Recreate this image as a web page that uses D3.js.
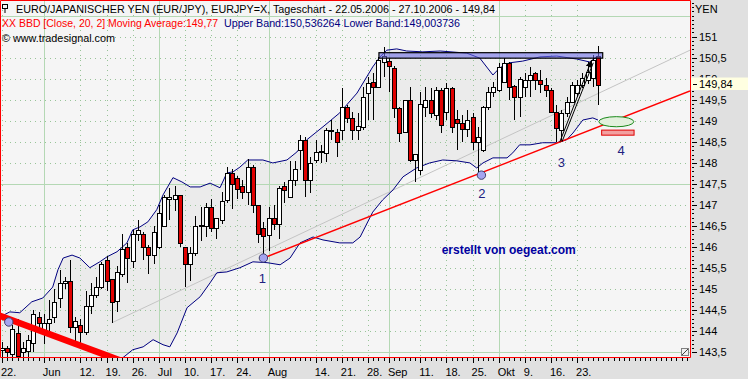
<!DOCTYPE html>
<html>
<head>
<meta charset="utf-8">
<script src="https://cdn.jsdelivr.net/npm/d3@7"></script>
<style>
  body { margin: 0; background: #e0e0e0; }
  svg { display: block; font-family: "Liberation Sans", Arial, sans-serif; }
</style>
</head>
<body>
<div id="chart"></div>
<script>

// daily candles, 22.05.2006 (index 0) .. 27.10.2006 (index 114)
var openV = [143.55,143.60,143.45,143.95,143.50,143.55,143.70,144.35,144.00,144.20,
  144.35,144.80,145.15,145.20,144.10,144.15,143.98,144.60,144.85,145.05,
  145.70,145.25,144.70,145.35,146.00,145.65,146.30,146.30,146.00,145.80,
  146.00,146.50,147.15,147.15,147.25,146.00,145.60,145.85,146.50,146.50,
  146.95,146.45,146.65,147.10,147.75,147.65,147.45,147.30,147.90,147.00,
  146.45,146.30,146.70,146.55,147.45,147.20,147.60,148.31,148.55,147.60,
  148.07,148.26,148.24,148.76,148.74,148.78,149.33,149.07,148.78,148.86,
  149.66,149.92,149.81,150.40,150.42,150.26,149.31,148.74,149.50,148.07,
  147.83,149.33,149.50,149.14,149.73,149.21,149.78,149.05,148.95,148.81,
  149.09,148.50,148.31,149.33,149.69,149.73,149.92,150.38,149.83,149.57,
  149.81,149.97,150.14,149.97,149.85,149.73,149.21,148.78,149.19,149.45,
  149.66,149.85,149.97,150.02,150.54];
var highV = [143.75,143.65,144.15,144.30,143.75,143.90,144.50,144.45,144.40,144.75,
  145.00,145.45,145.30,145.70,144.35,144.30,144.95,145.15,145.30,145.65,
  145.80,145.25,145.55,146.30,146.10,146.40,146.65,146.35,146.05,146.50,
  147.00,147.25,147.40,147.45,147.25,146.00,146.00,146.75,146.95,147.05,
  147.15,146.70,147.30,147.90,147.85,147.70,147.60,148.10,147.95,147.00,
  146.60,146.95,147.00,147.45,147.55,148.05,148.05,148.66,148.62,148.14,
  148.55,148.43,148.83,149.02,148.81,149.78,149.38,149.21,149.19,149.81,
  150.04,150.14,150.52,150.76,150.49,150.30,149.33,149.50,149.81,148.21,
  149.69,149.81,149.78,149.81,149.78,149.90,149.81,149.26,149.14,149.26,
  149.19,148.86,149.35,149.81,149.92,150.38,150.49,150.40,149.85,150.04,
  150.14,150.28,150.16,150.21,150.02,149.78,149.38,149.26,149.57,149.92,
  149.97,150.14,150.40,150.57,150.78];
var lowV = [143.40,143.30,143.30,143.20,143.30,143.40,143.50,143.95,143.70,143.95,
  144.20,144.55,145.00,143.95,143.75,143.70,143.90,144.40,144.80,145.00,
  144.95,144.20,144.45,145.30,145.15,145.50,146.15,145.70,145.35,145.60,
  145.95,146.50,146.65,146.85,146.00,145.05,145.20,145.80,146.15,146.25,
  146.35,146.20,146.55,147.05,146.90,147.15,147.15,147.00,146.80,146.10,
  145.74,145.90,146.40,146.20,147.05,147.20,147.45,147.83,147.19,147.29,
  148.00,148.00,148.02,148.55,148.14,148.55,148.95,148.55,148.55,148.78,
  149.02,149.02,149.78,150.04,149.69,149.07,148.50,148.71,148.02,147.55,
  147.72,149.09,149.07,149.02,148.71,149.02,148.71,148.31,148.50,148.62,
  148.31,147.74,148.26,149.26,149.57,149.69,149.90,149.50,149.02,149.09,
  149.57,149.57,149.73,149.66,149.57,149.19,148.50,148.50,149.09,149.43,
  149.57,149.78,149.88,149.81,149.38];
var closeV = [143.60,143.50,144.05,143.40,143.60,143.80,144.40,144.20,144.20,144.30,
  144.70,145.15,145.20,144.10,144.25,143.98,144.60,144.85,145.05,145.60,
  145.20,144.70,145.40,145.95,145.75,146.30,146.40,146.00,145.80,146.35,
  146.80,147.20,147.20,147.25,146.10,145.60,145.85,146.50,146.52,146.95,
  146.45,146.68,147.10,147.75,147.50,147.40,147.30,147.90,147.00,146.30,
  146.25,146.70,146.55,147.40,147.35,147.60,147.85,148.55,147.60,148.00,
  148.26,148.28,148.78,148.78,148.50,149.33,149.07,148.78,148.88,149.57,
  149.90,149.81,150.45,150.54,150.30,149.31,148.71,149.50,148.07,148.21,
  149.40,149.50,149.19,149.73,148.90,149.78,148.86,148.95,148.81,149.02,
  148.50,148.62,149.33,149.69,149.81,150.28,150.38,149.81,149.57,150.00,
  149.97,150.09,149.97,149.88,149.73,149.21,148.83,149.19,149.45,149.85,
  149.85,150.02,150.16,150.45,149.84];

// Bollinger bands (20, 2)
var upperIdx = [-0.4,1.5,3.4,5.7,7.8,9.7,10.7,11.7,13.4,14.9,16.8,18.7,20.1,22,23.9,25,26.4,27.9,29.6,30.8,
  32.7,34.4,36,37.9,39.8,41.7,43,44.2,45.5,47,49.9,51.8,54.5,56.4,58.3,61.4,64.6,67.9,70.9,72.3,
  73.6,75.5,77.4,80.5,83.8,88.9,91.4,93.9,95.2,97.1,99.6,102.9,106.1,109.9,112.4,114];
var upperVal = [144.34,144.46,144.44,144.70,144.79,145.05,145.46,145.74,145.81,145.74,145.51,145.65,145.77,145.89,146.10,146.41,146.48,146.60,146.89,147.24,
  147.65,147.55,147.43,147.43,147.52,147.41,147.76,147.79,147.90,148.07,148.07,148.00,148.07,148.26,148.55,148.86,149.19,149.66,150.28,150.52,
  150.68,150.71,150.66,150.64,150.66,150.61,150.49,150.09,150.26,150.38,150.42,150.52,150.54,150.47,150.40,150.54];
var lowerIdx = [-0.4,9,18.7,21.6,23.1,25,27,28.9,30.8,32.1,33.5,35.4,37.9,39.8,41.1,43,45.5,48,50.7,53.2,
  55.1,57,59.5,61.4,64.6,67.1,68.5,70.9,72.8,74.8,76.7,79.3,81.8,84.3,87,89.5,90.8,92,93.9,96.6,
  97.7,99,101,103.4,106.1,108,109.2,111.1,113,114];
var lowerVal = [142.30,142.60,142.96,143.20,143.37,143.56,143.63,143.80,143.68,143.63,143.96,144.56,144.82,145.15,145.39,145.41,145.51,145.65,145.63,145.58,
  145.74,146.10,146.24,146.17,146.10,146.10,146.24,146.83,147.12,147.36,147.67,147.88,148.00,148.07,148.05,148.00,147.88,148.00,148.12,148.12,
  148.24,148.43,148.43,148.48,148.48,148.55,148.71,149.02,149.07,149.02];

// axis ticks
var xTickIdx = [0, 8, 15, 20, 25, 30, 35, 40, 45, 51, 60, 65, 70, 74, 80, 85, 90, 95, 100, 105, 110];
var xTickLabels = ["22.", "Jun", "12.", "19.", "26.", "Jul", "10.", "17.", "24.", "Aug", "14.", "21.", "28.", "Sep", "11.", "18.", "25.", "Okt", "9.", "16.", "23."];
var monthTickIdx = [8, 30, 51, 74, 95];
var yTickVals = [143.5, 144, 144.5, 145, 145.5, 146, 146.5, 147, 147.5, 148, 148.5, 149, 149.5, 150, 150.5, 151];
var lastPrice = 149.84;

// drawn annotations, in (day index, price)
var grayTrend = [[21.0, 144.20], [131.6, 150.68]];
var redTrend = [[50, 145.74], [131.6, 149.71]];
var thickTrend = [[-0.4, 144.37], [26, 143.15]];
var arrowA = [[106.7, 148.50], [112.7, 150.42]];
var arrowB = [[107.1, 148.50], [113.1, 150.38]];
var markIdx = [1.3, 50, 91.7];
var markVal = [144.22, 145.74, 147.71];
var numText = ["1", "2", "3", "4"];
var numIdx = [49.8, 91.8, 107, 118.4];
var numVal = [145.14, 147.16, 147.90, 148.18];
var resistIdx = [72.1, 114.9];
var resistVal = [150.49, 150.62];
var ellipseC = [117.5, 148.98];
var ellipseR = [3.35, 0.12];
var targetIdx = [114.7, 120.9];
var targetVal = [148.66, 148.78];

var W = 748, H = 379, plotW = 690, plotH = 357;

var x = d3.scaleLinear().domain([0, 114]).range([2, 598]);
var y = d3.scaleLinear().domain([143.5, 151]).range([352.3, 36.7]);

var svg = d3.select("#chart").append("svg").attr("width", W).attr("height", H);
svg.append("rect").attr("width", W).attr("height", H).attr("fill", "#e0e0e0");
svg.append("defs").append("clipPath").attr("id", "pc")
  .append("rect").attr("width", plotW).attr("height", plotH);

var defs = svg.select("defs");
defs.append("marker").attr("id", "ah").attr("viewBox", "0 0 10 10")
  .attr("refX", 9).attr("refY", 5).attr("markerWidth", 7).attr("markerHeight", 7)
  .attr("orient", "auto").append("path").attr("d", "M0,0L10,5L0,10z").attr("fill", "#000");

var plot = svg.append("g").attr("clip-path", "url(#pc)");
plot.append("rect").attr("width", plotW).attr("height", plotH).attr("fill", "#f5f5f5");

// band fill
var upperPts = upperIdx.map(function(d, k){ return [x(d), y(upperVal[k])]; });
var lowerPts = lowerIdx.map(function(d, k){ return [x(d), y(lowerVal[k])]; });
plot.append("path")
  .attr("d", d3.line()(upperPts.concat(lowerPts.slice().reverse())) + "Z")
  .attr("fill", "#ebebeb");

// grid
var gridH = d3.range(143.5, 152, 0.5);
plot.selectAll(".gh").data(gridH).enter().append("line")
  .attr("x1", 0).attr("x2", plotW)
  .attr("y1", function(d){ return Math.round(y(d)) + 0.5; })
  .attr("y2", function(d){ return Math.round(y(d)) + 0.5; })
  .attr("stroke", function(d){ return (d - 143.5) % 4 === 0 ? "#b4d8b4" : "#98c498"; })
  .attr("stroke-dasharray", function(d){ return (d - 143.5) % 4 === 0 ? null : "1,4"; });
plot.selectAll(".gv").data(xTickIdx).enter().append("line")
  .attr("y1", 0).attr("y2", plotH)
  .attr("x1", function(d){ return Math.round(x(d)) + 0.5; })
  .attr("x2", function(d){ return Math.round(x(d)) + 0.5; })
  .attr("stroke", function(d){ return monthTickIdx.indexOf(d) >= 0 ? "#b4d8b4" : "#98c498"; })
  .attr("stroke-dasharray", function(d){ return monthTickIdx.indexOf(d) >= 0 ? null : "1,4"; });

var pline = d3.line().x(function(d){ return x(d[0]); }).y(function(d){ return y(d[1]); });

plot.append("path").attr("d", pline(grayTrend)).attr("stroke", "#c4c4c4").attr("fill", "none");

// band lines
plot.append("path").attr("d", d3.line()(upperPts)).attr("stroke", "#000080").attr("fill", "none");
plot.append("path").attr("d", d3.line()(lowerPts)).attr("stroke", "#000080").attr("fill", "none");

// candles
var candles = closeV.map(function(c, i){ return {i: i, o: openV[i], h: highV[i], l: lowV[i], c: c}; });
var cg = plot.append("g");
cg.selectAll(".wick").data(candles).enter().append("line")
  .attr("x1", function(d){ return Math.round(x(d.i)) + 0.5; })
  .attr("x2", function(d){ return Math.round(x(d.i)) + 0.5; })
  .attr("y1", function(d){ return Math.round(y(d.h)); })
  .attr("y2", function(d){ return Math.round(y(d.l)); })
  .attr("stroke", "#000");
cg.selectAll(".body").data(candles).enter().append("rect")
  .attr("x", function(d){ return Math.round(x(d.i)) - 1.5; })
  .attr("y", function(d){ return Math.round(y(Math.max(d.o, d.c))) + 0.5; })
  .attr("width", 4)
  .attr("height", function(d){ return Math.max(1, Math.round(Math.abs(y(d.o) - y(d.c)))); })
  .attr("fill", function(d){ return d.c >= d.o ? "#ffffff" : "#e00000"; })
  .attr("stroke", "#000");

// trend lines
plot.append("path").attr("d", pline(redTrend)).attr("stroke", "#ff0000").attr("stroke-width", 1.5).attr("fill", "none");
plot.append("path").attr("d", pline(thickTrend)).attr("stroke", "#ff0000").attr("stroke-width", 6.5).attr("fill", "none");

// resistance box
plot.append("rect")
  .attr("x", x(resistIdx[0])).attr("width", x(resistIdx[1]) - x(resistIdx[0]))
  .attr("y", y(resistVal[1])).attr("height", y(resistVal[0]) - y(resistVal[1]))
  .attr("fill", "rgb(110,110,230)").attr("fill-opacity", 0.6)
  .attr("stroke", "#000").attr("stroke-width", 1.2);

// target ellipse and box
plot.append("ellipse")
  .attr("cx", x(ellipseC[0])).attr("cy", y(ellipseC[1]))
  .attr("rx", x(ellipseR[0]) - x(0)).attr("ry", y(0) - y(ellipseR[1]))
  .attr("fill", "#e2f0dc").attr("stroke", "#1a8a1a");
plot.append("rect")
  .attr("x", x(targetIdx[0])).attr("width", x(targetIdx[1]) - x(targetIdx[0]))
  .attr("y", y(targetVal[1])).attr("height", y(targetVal[0]) - y(targetVal[1]))
  .attr("fill", "#f2a0a0").attr("stroke", "#e00000");

// arrow lines at point 3
plot.append("path").attr("d", pline(arrowA)).attr("stroke", "#000").attr("fill", "none").attr("marker-end", "url(#ah)");
plot.append("path").attr("d", pline(arrowB)).attr("stroke", "#000").attr("fill", "none");

// marked lows
plot.selectAll(".mk").data(markIdx).enter().append("circle")
  .attr("cx", function(d){ return x(d); })
  .attr("cy", function(d, k){ return y(markVal[k]); })
  .attr("r", 4.2)
  .attr("fill", "#a4a4f0").attr("stroke", "#404070");

plot.selectAll(".num").data(numText).enter().append("text")
  .attr("x", function(d, k){ return x(numIdx[k]); })
  .attr("y", function(d, k){ return y(numVal[k]); })
  .attr("text-anchor", "middle").attr("font-size", 13).attr("fill", "#202080")
  .text(function(d){ return d; });

plot.append("text").attr("x", x(84.1)).attr("y", y(145.84))
  .attr("font-size", 12).attr("font-weight", "bold").attr("fill", "#0000a0")
  .attr("textLength", 134).attr("lengthAdjust", "spacingAndGlyphs")
  .text("erstellt von oegeat.com");

// header texts
var hdr = svg.append("g").attr("font-size", 11.5);
hdr.append("rect").attr("x", 2.5).attr("y", 4.5).attr("width", 5).attr("height", 4).attr("fill", "none").attr("stroke", "#000");
hdr.append("line").attr("x1", 5).attr("x2", 5).attr("y1", 8.5).attr("y2", 13).attr("stroke", "#000");
hdr.append("text").attr("x", 16).attr("y", 13).attr("fill", "#000")
  .attr("textLength", 479).attr("lengthAdjust", "spacingAndGlyphs")
  .text("EURO/JAPANISCHER YEN (EUR/JPY), EURJPY=X, Tageschart - 22.05.2006 - 27.10.2006 - 149,84");
hdr.append("text").attr("x", 2).attr("y", 27).attr("fill", "#ff0000")
  .attr("textLength", 216).attr("lengthAdjust", "spacingAndGlyphs")
  .text("XX BBD [Close, 20, 2] Moving Average:149,77");
hdr.append("text").attr("x", 224).attr("y", 27).attr("fill", "#000080")
  .attr("textLength", 236).attr("lengthAdjust", "spacingAndGlyphs")
  .text("Upper Band:150,536264 Lower Band:149,003736");
hdr.append("text").attr("x", 2).attr("y", 42).attr("fill", "#000")
  .attr("textLength", 113).attr("lengthAdjust", "spacingAndGlyphs")
  .text("\u00a9 www.tradesignal.com");

// frame
svg.append("path")
  .attr("d", "M0.5," + (plotH + 0.5) + "V0.5H" + (plotW + 0.5) + "V" + (plotH + 0.5) + "H0.5")
  .attr("fill", "none").attr("stroke", "#ff0000");

// right axis
var ax = svg.append("g").attr("font-size", 11).attr("fill", "#000");
ax.append("text").attr("x", 695).attr("y", 13).text("YEN");
var minor = d3.range(1435, 1520, 1).map(function(d){ return d / 10; });
ax.selectAll(".mt").data(minor).enter().append("line")
  .attr("x1", 692).attr("x2", 694)
  .attr("y1", function(d){ return Math.round(y(d)) + 0.5; })
  .attr("y2", function(d){ return Math.round(y(d)) + 0.5; })
  .attr("stroke", "#000");
ax.selectAll(".Mt").data(yTickVals).enter().append("line")
  .attr("x1", 692).attr("x2", 697)
  .attr("y1", function(d){ return Math.round(y(d)) + 0.5; })
  .attr("y2", function(d){ return Math.round(y(d)) + 0.5; })
  .attr("stroke", "#000");
ax.selectAll(".yl").data(yTickVals).enter().append("text")
  .attr("x", 699).attr("y", function(d){ return y(d); }).attr("dy", "0.36em")
  .text(function(d){ return String(d).replace(".", ","); });

// last price tag
var py = y(lastPrice);
ax.append("rect").attr("x", 691).attr("y", py - 8).attr("width", 57).attr("height", 12.5).attr("fill", "#ffffe1");
ax.append("line").attr("x1", 693).attr("x2", 697).attr("y1", Math.round(py) - 1.5).attr("y2", Math.round(py) - 1.5).attr("stroke", "#000");
ax.append("text").attr("x", 699).attr("y", py - 1.5).attr("dy", "0.36em").text(String(lastPrice).replace(".", ","));

// bottom axis
var bx = svg.append("g").attr("font-size", 11).attr("fill", "#000");
bx.selectAll(".dt").data(d3.range(0, 132)).enter().append("line")
  .attr("x1", function(d){ return Math.round(x(d)) + 0.5; })
  .attr("x2", function(d){ return Math.round(x(d)) + 0.5; })
  .attr("y1", plotH + 1).attr("y2", function(d){ return xTickIdx.indexOf(d) >= 0 ? plotH + 6 : plotH + 4; })
  .attr("stroke", "#000");
bx.selectAll(".xl").data(xTickIdx).enter().append("text")
  .attr("x", function(d){ return x(d) - 1; }).attr("y", 376)
  .text(function(d, k){ return xTickLabels[k]; });

// corner icon
svg.append("rect").attr("x", 681.5).attr("y", 348.5).attr("width", 7).attr("height", 7).attr("fill", "#f0f0f0").attr("stroke", "#808080");
svg.append("line").attr("x1", 682).attr("y1", 355).attr("x2", 688).attr("y2", 349).attr("stroke", "#404040");
</script>
</body>
</html>
